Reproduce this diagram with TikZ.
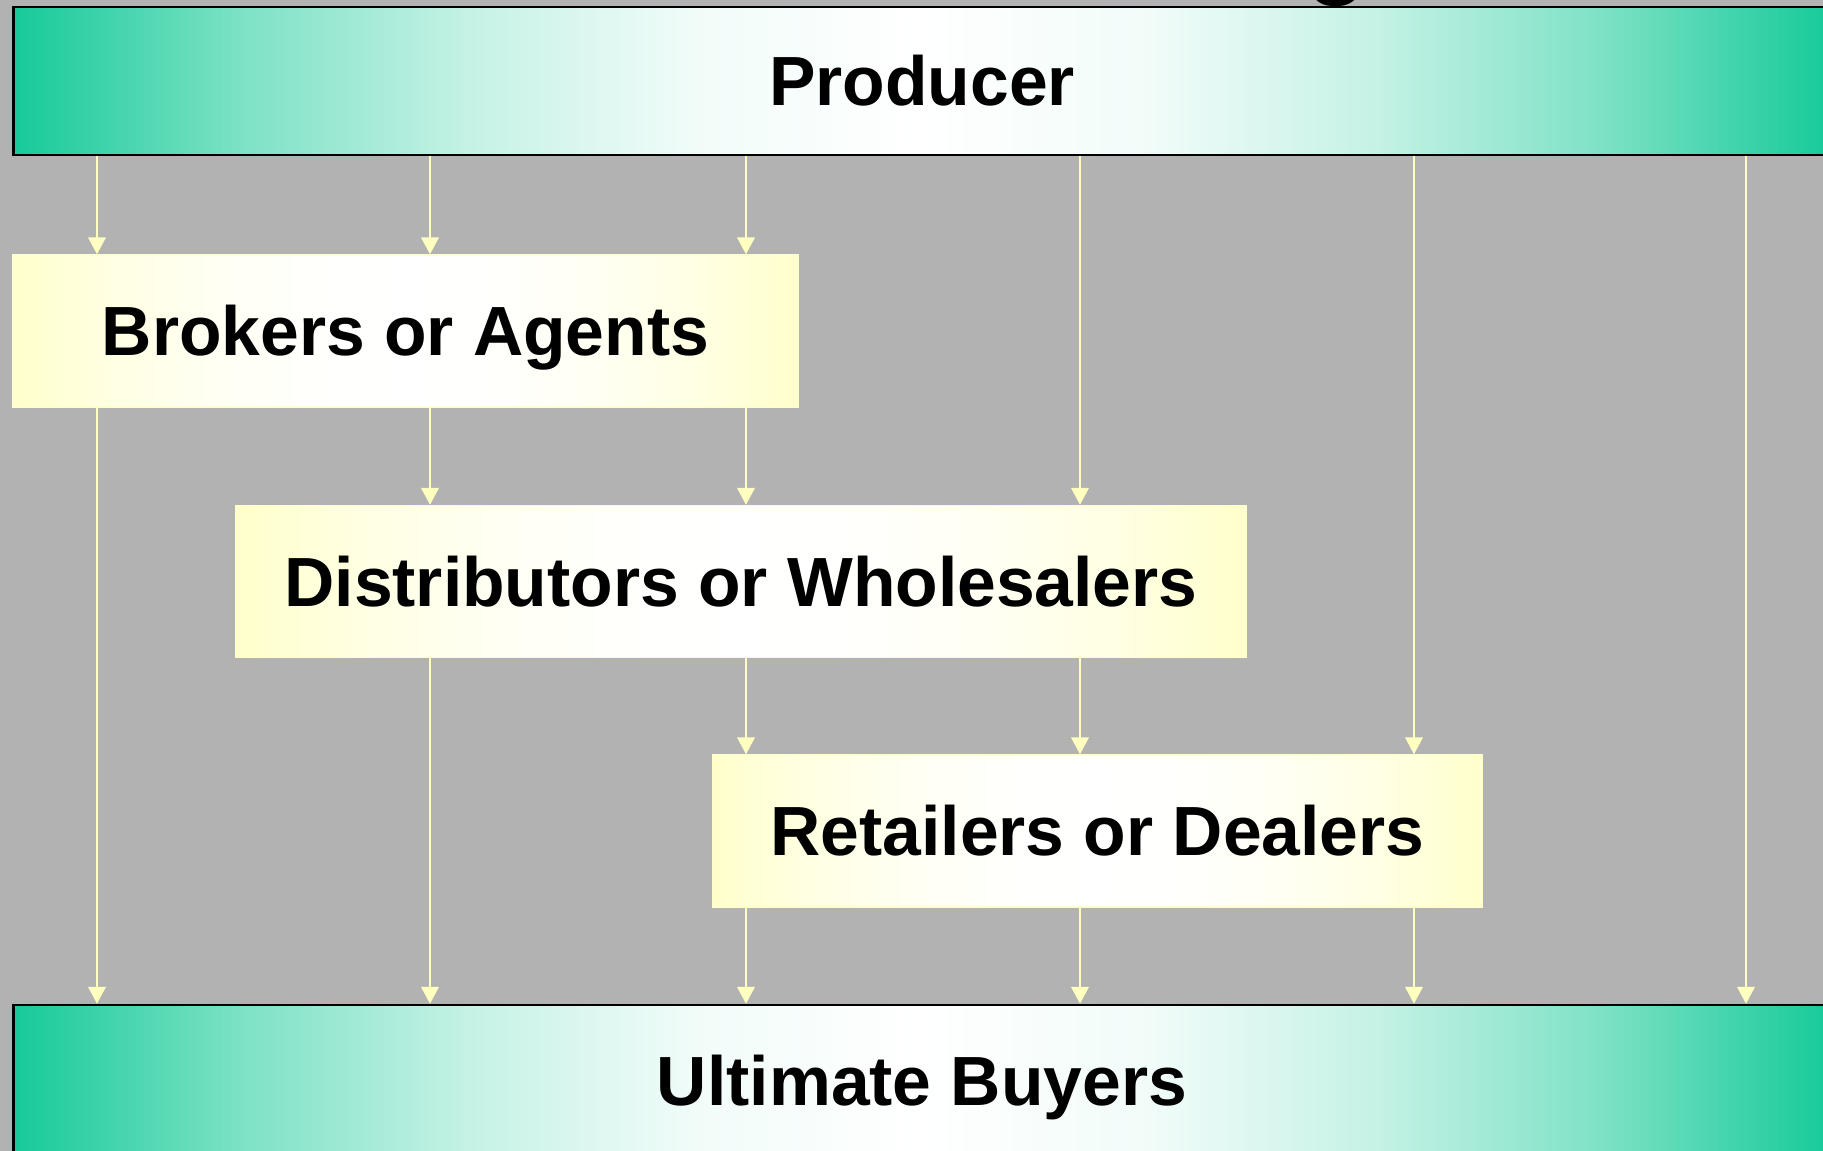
\documentclass[tikz,border=0pt]{standalone}
\usepackage{fontspec}
\setmainfont{Liberation Sans}
\usepackage{tikz}
\usepackage{xcolor}
\usetikzlibrary{arrows.meta}

\definecolor{bggray}{RGB}{178,178,178}
\definecolor{chteal}{RGB}{22,202,152}
\definecolor{chyellow}{RGB}{255,255,204}
\definecolor{chline}{RGB}{255,255,192}

\pgfdeclarehorizontalshading{tealfade}{100bp}{color(0bp)=(chteal); color(25bp)=(chteal); color(31.25bp)=(chteal!56); color(37.5bp)=(chteal!25); color(43.75bp)=(chteal!6); color(50bp)=(white); color(56.25bp)=(chteal!6); color(62.5bp)=(chteal!25); color(68.75bp)=(chteal!56); color(75bp)=(chteal); color(100bp)=(chteal)}
\pgfdeclarehorizontalshading{yellowfade}{100bp}{color(0bp)=(chyellow); color(25bp)=(chyellow); color(31.25bp)=(chyellow!56); color(37.5bp)=(chyellow!25); color(43.75bp)=(chyellow!6); color(50bp)=(white); color(56.25bp)=(chyellow!6); color(62.5bp)=(chyellow!25); color(68.75bp)=(chyellow!56); color(75bp)=(chyellow); color(100bp)=(chyellow)}

\begin{document}
\begin{tikzpicture}[x=0.01cm,y=-0.01cm,
  every node/.style={font=\fontsize{19.8}{24}\selectfont\bfseries,text height=14.2pt,text depth=0pt,inner sep=0pt},
  band/.style={draw=black,line width=0.7pt,shade,shading=tealfade,minimum height=1.48cm},
  level/.style={draw=chyellow,line width=0.4pt,shade,shading=yellowfade,minimum height=1.52cm},
  flow/.style={draw=chline,line width=0.55pt,-{Triangle[length=4.8pt,width=5pt]}}]
  % background
  \path[use as bounding box,fill=bggray] (0,0) rectangle (1823,1151);
  % cut-off title above
  \node[font=\fontsize{28.5}{30}\selectfont\bfseries,anchor=base] (ttl) at (1337,-15) {g};
  % channel levels
  \node[band,minimum width=18.16cm] (prod) at (922,81) {Producer};
  \node[level,minimum width=7.85cm] (brok) at (405.5,331) {Brokers or Agents};
  \node[level,minimum width=10.1cm] (dist) at (741,581.5) {Distributors or Wholesalers};
  \node[level,minimum width=7.69cm] (ret) at (1097.5,831) {Retailers or Dealers};
  \node[band,minimum width=18.16cm,minimum height=1.52cm] (ult) at (922,1081) {Ultimate Buyers};
  % columns
  \foreach \i/\x in {1/97,2/430,3/746,4/1080,5/1414,6/1746}
    \coordinate (c\i) at (\x,0);
  % flows
  \foreach \c in {c1,c2,c3}
    \draw[flow] (prod.south -| \c) -- (brok.north -| \c);
  \draw[flow] (prod.south -| c4) -- (dist.north -| c4);
  \draw[flow] (prod.south -| c5) -- (ret.north -| c5);
  \draw[flow] (prod.south -| c6) -- (ult.north -| c6);
  \draw[flow] (brok.south -| c1) -- (ult.north -| c1);
  \foreach \c in {c2,c3}
    \draw[flow] (brok.south -| \c) -- (dist.north -| \c);
  \draw[flow] (dist.south -| c2) -- (ult.north -| c2);
  \foreach \c in {c3,c4}
    \draw[flow] (dist.south -| \c) -- (ret.north -| \c);
  \foreach \c in {c3,c4,c5}
    \draw[flow] (ret.south -| \c) -- (ult.north -| \c);
\end{tikzpicture}
\end{document}
